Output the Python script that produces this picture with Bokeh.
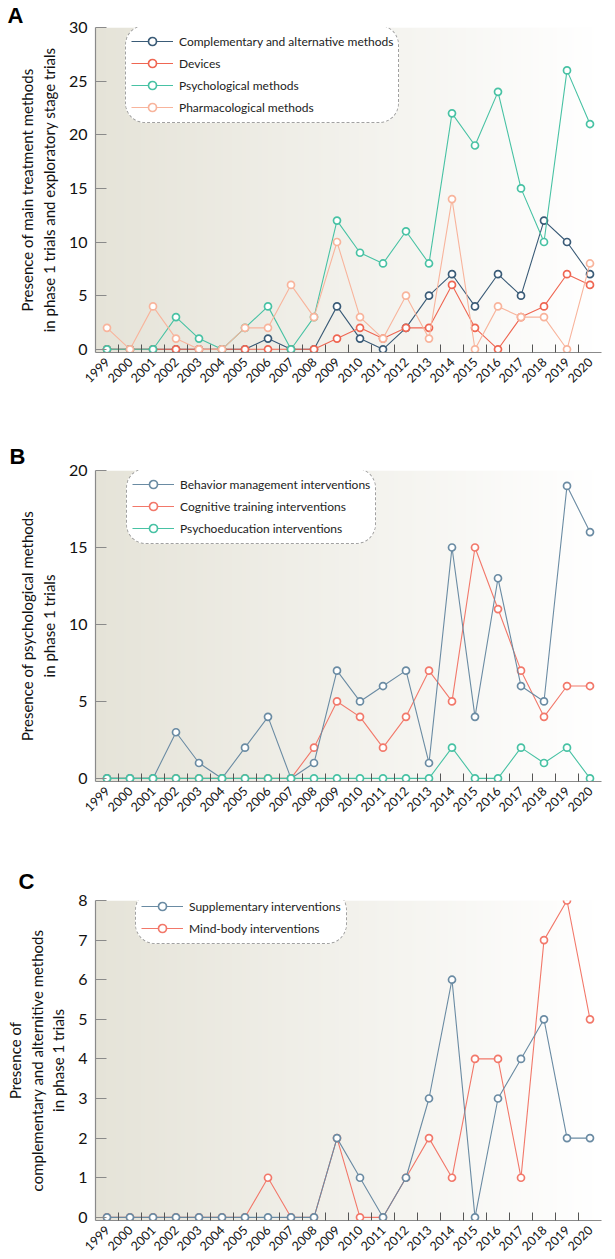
import numpy as np
from math import pi
from bokeh.plotting import figure
from bokeh.layouts import column
from bokeh.models import Range1d, FixedTicker, Legend, LegendItem
from bokeh.embed import file_html
from bokeh.resources import INLINE

# ---------------- data ----------------
years = list(range(1999, 2021))

a_names = ["Complementary and alternative methods", "Devices",
           "Psychological methods", "Pharmacological methods"]
a_complementary = [0, 0, 0, 0, 0, 0, 0, 1, 0, 0, 4, 1, 0, 2, 5, 7, 4, 7, 5, 12, 10, 7]
a_devices = [0, 0, 0, 0, 0, 0, 0, 0, 0, 0, 1, 2, 1, 2, 2, 6, 2, 0, 3, 4, 7, 6]
a_psychological = [0, 0, 0, 3, 1, 0, 2, 4, 0, 3, 12, 9, 8, 11, 8, 22, 19, 24, 15, 10, 26, 21]
a_pharmacological = [2, 0, 4, 1, 0, 0, 2, 2, 6, 3, 10, 3, 1, 5, 1, 14, 0, 4, 3, 3, 0, 8]

b_names = ["Behavior management interventions", "Cognitive training interventions",
           "Psychoeducation interventions"]
b_behavior = [0, 0, 0, 3, 1, 0, 2, 4, 0, 1, 7, 5, 6, 7, 1, 15, 4, 13, 6, 5, 19, 16]
b_cognitive = [0, 0, 0, 0, 0, 0, 0, 0, 0, 2, 5, 4, 2, 4, 7, 5, 15, 11, 7, 4, 6, 6]
b_psychoeducation = [0, 0, 0, 0, 0, 0, 0, 0, 0, 0, 0, 0, 0, 0, 0, 2, 0, 0, 2, 1, 2, 0]

c_names = ["Supplementary interventions", "Mind-body interventions"]
c_supplementary = [0, 0, 0, 0, 0, 0, 0, 0, 0, 0, 2, 1, 0, 1, 3, 6, 0, 3, 4, 5, 2, 2]
c_mindbody = [0, 0, 0, 0, 0, 0, 0, 1, 0, 0, 2, 0, 0, 1, 2, 1, 4, 4, 1, 7, 8, 5]

a_yticks = [0, 5, 10, 15, 20, 25, 30]
b_yticks = [0, 5, 10, 15, 20]
c_yticks = [0, 1, 2, 3, 4, 5, 6, 7, 8]

a_ylabel = "Presence of main treatment methods\nin phase 1 trials and exploratory stage trials"
b_ylabel = "Presence of psychological methods\nin phase 1 trials"
c_ylabel = "Presence of\ncomplementary and alternitive methods\nin phase 1 trials"

# ---------------- style ----------------
FONT = "Lato"
AXIS_GRAY = "#8a8a8a"
GRAD_LEFT = (229, 227, 216)
GRAD_RIGHT = (255, 255, 255)

C_DARK = "#3a5b77"
C_RED = "#ef6652"
C_TEAL = "#48c2a4"
C_PINK = "#f8b49c"
C_SLATE = "#6a8ba3"
C_RED2 = "#f2786a"


def make_fig(width, height, left, right, top, bottom, ymax, ypad, yticks, ylabel,
             letter, letter_offset, letter_standoff):
    p = figure(width=width, height=height,
               x_range=Range1d(years[0] - 0.5, years[-1] + 0.5),
               y_range=Range1d(-ypad, ymax),
               output_backend="svg", toolbar_location=None,
               min_border_left=left, min_border_right=right,
               min_border_top=top, min_border_bottom=bottom)
    p.xgrid.visible = False
    p.ygrid.visible = False
    p.outline_line_color = None
    p.background_fill_color = "white"
    p.border_fill_color = "white"

    # panel letter as the figure title
    p.title.text = letter
    p.title.align = "left"
    p.title.offset = letter_offset
    p.title.standoff = letter_standoff
    p.title.text_font = "Liberation Sans"
    p.title.text_font_style = "bold"
    p.title.text_font_size = "22px"
    p.title.text_color = "#000000"

    # gradient background spanning the frame
    n = 256
    t = np.linspace(0.0, 1.0, n)
    rgba = np.zeros((1, n, 4), dtype=np.uint8)
    for k in range(3):
        rgba[0, :, k] = np.round(GRAD_LEFT[k] + (GRAD_RIGHT[k] - GRAD_LEFT[k]) * t).astype(np.uint8)
    rgba[0, :, 3] = 255
    img = rgba.view(np.uint32).reshape(1, n)
    xr, yr = p.x_range, p.y_range
    p.image_rgba(image=[img], x=xr.start, y=yr.start,
                 dw=xr.end - xr.start, dh=yr.end - yr.start, level="image")

    # y axis
    ya = p.yaxis[0]
    ya.ticker = FixedTicker(ticks=yticks)
    ya.axis_label = ylabel
    ya.axis_label_text_font = FONT
    ya.axis_label_text_font_size = "15px"
    ya.axis_label_text_font_style = "normal"
    ya.axis_label_text_color = "#111111"
    ya.axis_label_standoff = 8
    ya.major_label_text_font = FONT
    ya.major_label_text_font_size = "16px"
    ya.major_label_text_color = "#111111"
    ya.major_label_standoff = 8
    ya.major_tick_in = 11
    ya.major_tick_out = 0
    ya.major_tick_line_color = AXIS_GRAY
    ya.minor_tick_line_color = None
    ya.axis_line_color = AXIS_GRAY
    ya.axis_line_width = 1.2

    # x axis
    xa = p.xaxis[0]
    xa.ticker = FixedTicker(ticks=years, minor_ticks=[y + 0.5 for y in years[:-1]])
    xa.major_tick_line_color = None
    xa.minor_tick_in = 8
    xa.minor_tick_out = 0
    xa.minor_tick_line_color = "#555555"
    xa.axis_line_color = AXIS_GRAY
    xa.axis_line_width = 1.2
    xa.major_label_orientation = pi / 4
    xa.major_label_standoff = 1
    xa.major_label_text_font = FONT
    xa.major_label_text_font_size = "12.5px"
    xa.major_label_text_color = "#111111"
    return p


def add_series(p, ys, color):
    lr = p.line(years, ys, line_color=color, line_width=1.1)
    sr = p.scatter(years, ys, marker="circle", size=7, line_color=color,
                   line_width=1.7, fill_color="white")
    return [lr, sr]


def add_legend(p, names, rends, frame_h, left_off, top_off):
    n = len(names)
    pad, spc, gh = 5, 2, 20
    leg_h = 2 * pad + n * gh + (n - 1) * spc
    items = [LegendItem(label=nm, renderers=r) for nm, r in zip(names, rends)]
    leg = Legend(items=items, location=(left_off, frame_h - top_off - leg_h),
                 orientation="vertical", padding=pad, spacing=spc,
                 glyph_width=42, glyph_height=gh, label_height=gh, label_standoff=6,
                 label_text_font=FONT, label_text_font_size="12px",
                 label_text_color="#222222",
                 border_line_color="#444444", border_line_dash="6 4",
                 border_line_width=1, background_fill_color="white",
                 background_fill_alpha=1.0, margin=0)
    try:
        leg.border_radius = 20
    except Exception:
        pass
    p.add_layout(leg)


W = 615

# ---------- Panel A ----------
A_H, A_L, A_R, A_T, A_B = 414, 95, 4, 26, 62
pa = make_fig(W, A_H, A_L, A_R, A_T, A_B, 30, 0.3, a_yticks, a_ylabel, "A", -88, 0)
ra = {}
ra["comp"] = add_series(pa, a_complementary, C_DARK)
ra["dev"] = add_series(pa, a_devices, C_RED)
ra["psy"] = add_series(pa, a_psychological, C_TEAL)
ra["pha"] = add_series(pa, a_pharmacological, C_PINK)
add_legend(pa, a_names, [ra["comp"], ra["dev"], ra["psy"], ra["pha"]], A_H - A_T - A_B, 30, 1)

# ---------- Panel B ----------
B_H, B_L, B_R, B_T, B_B = 408, 94, 11, 56, 41
pb = make_fig(W, B_H, B_L, B_R, B_T, B_B, 20, 0.2, b_yticks, b_ylabel, "B", -86, 4)
rb = {}
rb["cog"] = add_series(pb, b_cognitive, C_RED2)
rb["beh"] = add_series(pb, b_behavior, C_SLATE)
rb["edu"] = add_series(pb, b_psychoeducation, C_TEAL)
add_legend(pb, b_names, [rb["beh"], rb["cog"], rb["edu"]], B_H - B_T - B_B, 31, 0)

# ---------- Panel C ----------
C_H, C_L, C_R, C_T, C_B = 436, 85, 14, 78, 30
pc = make_fig(W, C_H, C_L, C_R, C_T, C_B, 8, 0.08, c_yticks, c_ylabel, "C", -77, 14)
rc = {}
rc["mb"] = add_series(pc, c_mindbody, C_RED2)
rc["sup"] = add_series(pc, c_supplementary, C_SLATE)
add_legend(pc, c_names, [rc["sup"], rc["mb"]], C_H - C_T - C_B, 40, 0)

layout = column(pa, pb, pc)
open("out.html", "w").write(file_html(layout, INLINE))
